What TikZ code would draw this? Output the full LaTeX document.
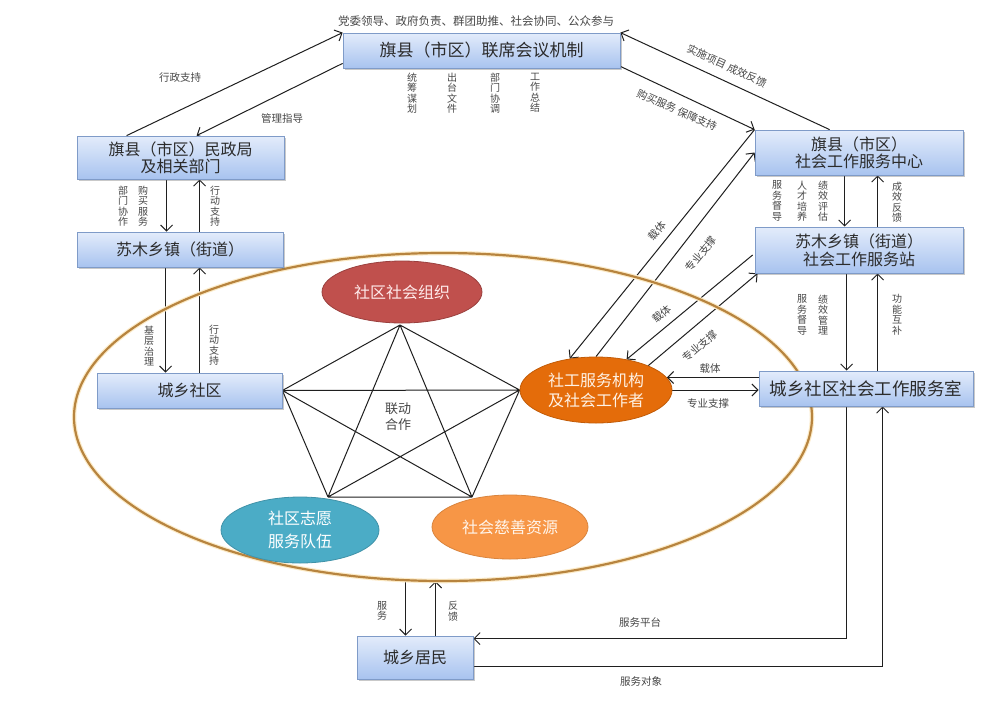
\documentclass[tikz,border=0pt]{standalone}
\usepackage{fontspec}
\setmainfont{Noto Sans CJK SC}
\usetikzlibrary{arrows.meta,shapes.geometric,calc,shadows}
\pgfdeclarelayer{lines}
\pgfdeclarelayer{ringl}
\pgfsetlayers{lines,ringl,main}
\definecolor{boxtop}{HTML}{E3ECFB}
\definecolor{boxbot}{HTML}{A8C3EF}
\definecolor{boxline}{HTML}{7F9BC8}
\definecolor{boxtext}{HTML}{2B2B2B}
\definecolor{linec}{HTML}{1F1F1F}
\definecolor{lbltext}{HTML}{474747}
\definecolor{orgred}{HTML}{C0504D}
\definecolor{sgorange}{HTML}{E46C0A}
\definecolor{volblue}{HTML}{4BACC6}
\definecolor{charity}{HTML}{F79646}
\definecolor{ringc}{HTML}{B7843F}
\definecolor{glowc}{HTML}{FCEBC8}
\tikzset{
  box/.style={rectangle, draw=boxline, line width=0.8pt, top color=boxtop, bottom color=boxbot,
    text=boxtext, font=\fontsize{16}{17}\selectfont, align=center, inner sep=0pt,
    drop shadow={shadow xshift=1.5pt, shadow yshift=-1.5pt, opacity=0.35, fill=black!60}},
  blob/.style={ellipse, inner sep=0pt, align=center, line width=0.8pt, font=\fontsize{16}{20}\selectfont},
  lbl/.style={text=lbltext, font=\fontsize{10.5}{11}\selectfont, inner sep=0pt},
  vlbl/.style={text=lbltext, font=\fontsize{10}{10.5}\selectfont, inner sep=0pt, align=center},
  arr/.style={draw=linec, line width=1pt, -{Straight Barb[length=6pt,width=12pt]}},
  ln/.style={draw=linec, line width=1pt}
}
\begin{document}
\begin{tikzpicture}[x=1pt,y=-1pt]
\useasboundingbox (0,0) rectangle (1000,702);
\begin{pgfonlayer}{lines}
\fill[white] (0,0) rectangle (1000,702);
\end{pgfonlayer}

% big ellipse (defined, drawn on its own layer)
\node[ellipse, minimum width=738pt, minimum height=328pt, inner sep=0pt] (big) at (443,417) {};

% boxes
\node[box, minimum width=277pt, minimum height=35pt, font=\fontsize{17}{18}\selectfont] (lx) at (481.5,50.5) {旗县（市区）联席会议机制};
\node[box, minimum width=207pt, minimum height=43pt] (mz) at (180.5,157.5) {旗县（市区）民政局\\及相关部门};
\node[box, minimum width=206pt, minimum height=35pt] (sm) at (180,249.5) {苏木乡镇（街道）};
\node[box, minimum width=185pt, minimum height=35pt] (sq) at (189.5,390.5) {城乡社区};
\node[box, minimum width=208pt, minimum height=45pt] (zx) at (859,152.5) {旗县（市区）\\社会工作服务中心};
\node[box, minimum width=208pt, minimum height=46pt, font=\fontsize{16}{18}\selectfont] (zz) at (859,250) {苏木乡镇（街道）\\社会工作服务站};
\node[box, minimum width=214pt, minimum height=35pt, font=\fontsize{17.5}{18}\selectfont] (fws) at (866,388.5) {城乡社区社会工作服务室};
\node[box, minimum width=116pt, minimum height=43pt] (jm) at (415,657.5) {城乡居民};

% ellipses
\node[blob, minimum width=160pt, minimum height=62pt, fill=orgred, draw=orgred!80!black, text=red!8] (org) at (402,292) {社区社会组织};
\node[blob, minimum width=152pt, minimum height=66pt, fill=sgorange, draw=sgorange!85!black, text=orange!10] (sg) at (596,390) {社工服务机构\\及社会工作者};
\node[blob, minimum width=158pt, minimum height=66pt, fill=volblue, draw=volblue!85!black, text=white, font=\fontsize{16}{23}\selectfont] (zy) at (300,530) {社区志愿\\服务队伍};
\node[blob, minimum width=156pt, minimum height=64pt, fill=charity, draw=charity!88!black, text=orange!8] (cs) at (510,527) {社会慈善资源};

% top text
\node[lbl, font=\fontsize{11.5}{12}\selectfont] (top) at (476,21) {党委领导、政府负责、群团助推、社会协同、公众参与};

\begin{pgfonlayer}{ringl}
\draw[glowc, line width=4.5pt] (big.center) ellipse [x radius=369pt, y radius=164pt];
\draw[ringc, line width=2.2pt] (big.center) ellipse [x radius=369pt, y radius=164pt];
\end{pgfonlayer}

\begin{pgfonlayer}{lines}
% pentagon (complete graph)
\coordinate (p1) at (400,325);
\coordinate (p2) at (sq.east);
\coordinate (p3) at (sg.west);
\coordinate (p4) at (328,497);
\coordinate (p5) at (472,497);
\draw[ln] (p1) -- (p2) (p1) -- (p3) (p1) -- (p4) (p1) -- (p5)
          (p2) -- (p3) (p2) -- (p4) (p2) -- (p5)
          (p3) -- (p4) (p3) -- (p5) (p4) -- (p5);

% top-left arrows
\coordinate (m1) at ($(mz.north west)+(50,0)$);
\coordinate (m2) at ($(mz.north west)+(120,0)$);
\coordinate (l1) at ($(lx.south west)+(0,-5)$);
\draw[arr] (m1) -- (lx.north west);
\draw[arr] (l1) -- (m2);

% top-right arrows
\coordinate (z1) at ($(zx.north west)+(75,0)$);
\coordinate (l2) at ($(lx.south east)+(0,-2)$);
\draw[arr] (z1) -- (lx.north east);
\draw[arr] (l2) -- (zx.north west);

% left vertical arrows
\coordinate (a1) at ($(mz.south west)+(90,0)$);
\coordinate (a2) at ($(sm.north west)+(123,0)$);
\coordinate (a3) at ($(sm.south west)+(89,0)$);
\coordinate (a4) at ($(sq.north west)+(103,0)$);
\draw[arr] (a1) -- (a1 |- sm.north);
\draw[arr] (a2) -- (a2 |- mz.south);
\draw[arr] (a3) -- (a3 |- sq.north);
\draw[arr] (a4) -- (a4 |- sm.south);

% right vertical arrows
\coordinate (b1) at ($(zx.south west)+(90,0)$);
\coordinate (b2) at ($(zz.north west)+(123,0)$);
\coordinate (b3) at ($(zz.south west)+(92,0)$);
\coordinate (b4) at ($(fws.north west)+(119,0)$);
\draw[arr] (b1) -- (b1 |- zz.north);
\draw[arr] (b2) -- (b2 |- zx.south);
\draw[arr] (b3) -- (b3 |- fws.north);
\draw[arr] (b4) -- (b4 |- zz.south);

% diagonal arrows to social work ellipse
\draw[arr] (zx.north west) -- (sg.130);
\draw[arr] (sg.north) -- (zx.west);
\coordinate (d1) at ($(zz.west)+(-2,5)$);
\coordinate (d2) at ($(zz.south west)+(3,0)$);
\draw[arr] (d1) -- (sg.45);
\draw[arr] (sg.25) -- (d2);

% horizontal arrows room <-> ellipse
\draw[arr] (fws.west |- sg.10) -- (sg.10);
\draw[arr] (sg.east) -- (fws.west |- sg.east);

% residents
\coordinate (c1) at ($(jm.north west)+(49,0)$);
\coordinate (c2) at ($(jm.north west)+(79,0)$);
\draw[arr] (c1 |- big.south) -- (c1);
\draw[arr] (c2) -- (c2 |- big.south);
\coordinate (f1) at ($(fws.south west)+(88,0)$);
\coordinate (j1) at ($(jm.north east)+(0,3)$);
\draw[arr] (f1) |- (j1);
\coordinate (j2) at ($(jm.south east)+(0,-13)$);
\coordinate (f2) at ($(fws.south west)+(124,0)$);
\draw[arr] (j2) -| (f2);
\end{pgfonlayer}

% labels
\node[text=lbltext, font=\fontsize{13}{16}\selectfont, align=center, inner sep=0pt] (ld) at (398,417) {联动\\合作};
\node[lbl] (t1) at (180,78) {行政支持};
\node[lbl] (t2) at (282,118) {管理指导};
\node[lbl, rotate=-25] (t3) at (727,66) {实施项目 成效反馈};
\node[lbl, rotate=-24] (t4) at (677,110) {购买服务 保障支持};

\node[vlbl] (u1) at (412,93) {统\\筹\\谋\\划};
\node[vlbl] (u2) at (452,93) {出\\台\\文\\件};
\node[vlbl] (u3) at (495,93) {部\\门\\协\\调};
\node[vlbl] (u4) at (535,93) {工\\作\\总\\结};

\node[vlbl] (v1) at (123,206) {部\\门\\协\\作};
\node[vlbl] (v2) at (143,206) {购\\买\\服\\务};
\node[vlbl] (v3) at (215,206) {行\\动\\支\\持};
\node[vlbl] (v4) at (149,346) {基\\层\\治\\理};
\node[vlbl] (v5) at (214,345) {行\\动\\支\\持};

\node[vlbl] (w1) at (777,201) {服\\务\\督\\导};
\node[vlbl] (w2) at (802,201) {人\\才\\培\\养};
\node[vlbl] (w3) at (823,201) {绩\\效\\评\\估};
\node[vlbl] (w4) at (897,202) {成\\效\\反\\馈};
\node[vlbl] (w5) at (802,315) {服\\务\\督\\导};
\node[vlbl] (w6) at (823,315) {绩\\效\\管\\理};
\node[vlbl] (w7) at (897,315) {功\\能\\互\\补};

\node[lbl, rotate=51] (k1) at (657,231) {载体};
\node[lbl, rotate=51] (k2) at (701,254) {专业支撑};
\node[lbl, rotate=41] (k3) at (662,314) {载体};
\node[lbl, rotate=41] (k4) at (700,346) {专业支撑};
\node[lbl] (k5) at (710,369) {载体};
\node[lbl] (k6) at (708,403) {专业支撑};

\node[vlbl] (r1) at (382,611) {服\\务};
\node[vlbl] (r2) at (453,611) {反\\馈};
\node[lbl] (s1) at (640,622) {服务平台};
\node[lbl] (s2) at (641,681) {服务对象};
\end{tikzpicture}
\end{document}
